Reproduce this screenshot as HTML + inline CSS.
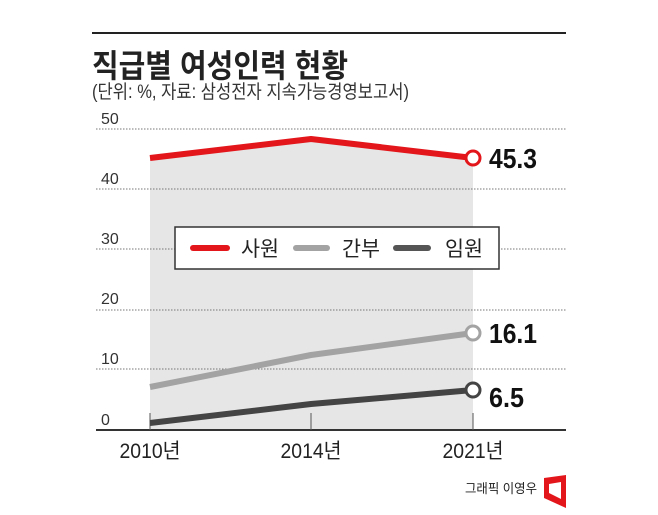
<!DOCTYPE html>
<html><head><meta charset="utf-8"><style>
html,body{margin:0;padding:0;background:#fff;}
svg{display:block;}
text{font-family:"Liberation Sans","Noto Sans CJK KR",sans-serif;}
</style></head><body>
<svg width="658" height="515" viewBox="0 0 658 515" xmlns="http://www.w3.org/2000/svg">
<rect width="658" height="515" fill="#fff"/>
<line x1="92" y1="33" x2="566" y2="33" stroke="#222" stroke-width="2"/>
<text x="92" y="77" font-size="32" font-weight="bold" fill="#222" textLength="256" lengthAdjust="spacingAndGlyphs">직급별 여성인력 현황</text>
<text x="92" y="98" font-size="19" fill="#333" textLength="317" lengthAdjust="spacingAndGlyphs">(단위: %, 자료: 삼성전자 지속가능경영보고서)</text>
<polygon points="150,158 311,139 473,158 473,430 150,430" fill="#e6e6e6"/>
<g stroke="#777" stroke-width="1" stroke-dasharray="1.5,1.5">
<line x1="96" y1="129" x2="566" y2="129"/>
<line x1="96" y1="189" x2="566" y2="189"/>
<line x1="96" y1="249" x2="566" y2="249"/>
<line x1="96" y1="310" x2="566" y2="310"/>
<line x1="96" y1="369" x2="566" y2="369"/>
</g>
<g font-size="16" fill="#333">
<text x="101" y="124">50</text><text x="101" y="184">40</text><text x="101" y="244">30</text>
<text x="101" y="304">20</text><text x="101" y="364">10</text><text x="101" y="425">0</text>
</g>
<line x1="96" y1="430" x2="566" y2="430" stroke="#333" stroke-width="2"/>
<g stroke="#555" stroke-width="1"><line x1="150" y1="413" x2="150" y2="430"/><line x1="311" y1="413" x2="311" y2="430"/><line x1="473" y1="413" x2="473" y2="430"/></g>
<polyline points="150,158 311,139 473,158" fill="none" stroke="#e3161b" stroke-width="6" stroke-linejoin="round"/>
<polyline points="150,387 311,355 473,333" fill="none" stroke="#a3a3a3" stroke-width="6" stroke-linejoin="round"/>
<polyline points="150,423 311,404 473,390" fill="none" stroke="#444" stroke-width="6" stroke-linejoin="round"/>
<circle cx="473" cy="158" r="7" fill="#fff" stroke="#e3161b" stroke-width="3"/>
<circle cx="473" cy="333" r="7" fill="#fff" stroke="#a3a3a3" stroke-width="3"/>
<circle cx="473" cy="390" r="7" fill="#fff" stroke="#444" stroke-width="3"/>
<g font-size="28" fill="#111" font-weight="bold">
<text x="489" y="168" textLength="48" lengthAdjust="spacingAndGlyphs">45.3</text>
<text x="489" y="343" textLength="48" lengthAdjust="spacingAndGlyphs">16.1</text>
<text x="489" y="407" textLength="35" lengthAdjust="spacingAndGlyphs">6.5</text>
</g>
<rect x="175" y="227" width="324" height="42" fill="#fff" stroke="#333" stroke-width="1.5"/>
<g stroke-width="6" stroke-linecap="round">
<line x1="193" y1="248" x2="227" y2="248" stroke="#e3161b"/>
<line x1="296" y1="248" x2="327" y2="248" stroke="#a3a3a3"/>
<line x1="396" y1="248" x2="428" y2="248" stroke="#555"/>
</g>
<g font-size="21" fill="#222">
<text x="241" y="256" textLength="38" lengthAdjust="spacingAndGlyphs">사원</text>
<text x="342" y="256" textLength="38" lengthAdjust="spacingAndGlyphs">간부</text>
<text x="445" y="256" textLength="38" lengthAdjust="spacingAndGlyphs">임원</text>
</g>
<g font-size="21" fill="#222" text-anchor="middle">
<text x="150" y="458" textLength="61" lengthAdjust="spacingAndGlyphs">2010년</text>
<text x="311" y="458" textLength="61" lengthAdjust="spacingAndGlyphs">2014년</text>
<text x="473" y="458" textLength="61" lengthAdjust="spacingAndGlyphs">2021년</text>
</g>
<text x="465" y="493" font-size="13" fill="#222" textLength="72" lengthAdjust="spacingAndGlyphs">그래픽 이영우</text>
<polygon points="544,478 566,475 566,508 544,498" fill="#e3161b"/>
<polygon points="549,484 561,482 561,499 549,493" fill="#fff"/>
</svg>
</body></html>
